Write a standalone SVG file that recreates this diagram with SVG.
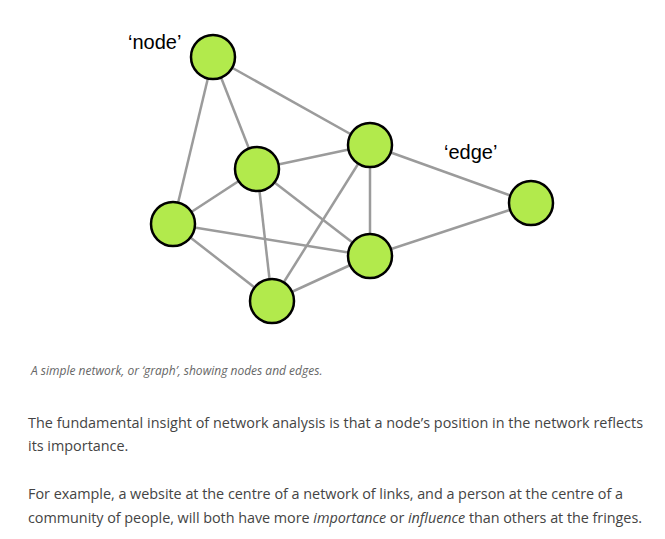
<svg xmlns="http://www.w3.org/2000/svg" width="665" height="539" viewBox="0 0 665 539">
<style>
.edge{stroke:#9b9b9b;stroke-width:2.5;fill:none}
.node{fill:#b2ea4c;stroke:#000;stroke-width:2.5}
.lbl{font-family:"Liberation Sans",Arial,sans-serif;font-size:20px;fill:#000}
.cap{font-family:"Open Sans",sans-serif;font-style:italic;font-size:12px;fill:#666}
.body{font-family:"Open Sans",sans-serif;font-size:14.4px;fill:#444}
</style>
<rect width="665" height="539" fill="#fff"/>
<g id="connectors">
<line class="edge" x1="213" y1="57" x2="370" y2="145"/>
<line class="edge" x1="213" y1="57" x2="257" y2="169"/>
<line class="edge" x1="213" y1="57" x2="173" y2="224"/>
<line class="edge" x1="257" y1="169" x2="370" y2="145"/>
<line class="edge" x1="257" y1="169" x2="173" y2="224"/>
<line class="edge" x1="257" y1="169" x2="272" y2="301"/>
<line class="edge" x1="257" y1="169" x2="370" y2="256"/>
<line class="edge" x1="370" y1="145" x2="370" y2="256"/>
<line class="edge" x1="370" y1="145" x2="272" y2="301"/>
<line class="edge" x1="370" y1="145" x2="531" y2="203"/>
<line class="edge" x1="173" y1="224" x2="370" y2="256"/>
<line class="edge" x1="173" y1="224" x2="272" y2="301"/>
<line class="edge" x1="272" y1="301" x2="370" y2="256"/>
<line class="edge" x1="370" y1="256" x2="531" y2="203"/>
</g>
<g id="node-a"><circle class="node" cx="213" cy="57" r="22"/></g>
<g id="node-b"><circle class="node" cx="257" cy="169" r="22"/></g>
<g id="node-c"><circle class="node" cx="370" cy="145" r="22"/></g>
<g id="node-d"><circle class="node" cx="173" cy="224" r="22"/></g>
<g id="node-e"><circle class="node" cx="370" cy="256" r="22"/></g>
<g id="node-f"><circle class="node" cx="272" cy="301" r="22"/></g>
<g id="node-g"><circle class="node" cx="531" cy="203" r="22"/></g>
<text class="lbl" x="128" y="49">‘node’</text>
<text class="lbl" x="444" y="159">‘edge’</text>
<text class="cap" x="31" y="375">A simple network, or ‘graph’, showing nodes and edges.</text>
<text class="body" x="28" y="428" textLength="615" lengthAdjust="spacing">The fundamental insight of network analysis is that a node’s position in the network reflects</text>
<text class="body" x="28" y="451">its importance.</text>
<text class="body" x="28" y="499" textLength="595" lengthAdjust="spacing">For example, a website at the centre of a network of links, and a person at the centre of a</text>
<text class="body" x="28" y="523" textLength="614" lengthAdjust="spacing">community of people, will both have more <tspan font-style="italic">importance</tspan> or <tspan font-style="italic">influence</tspan> than others at the fringes.</text>
</svg>
